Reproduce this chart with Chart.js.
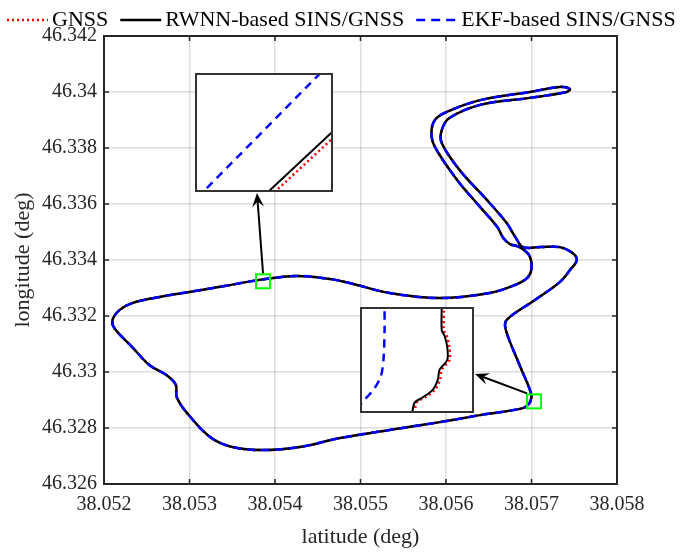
<!DOCTYPE html>
<html>
<head>
<meta charset="utf-8">
<script src="https://cdn.jsdelivr.net/npm/chart.js@4.4.1/dist/chart.umd.min.js"></script>
<style>
  html, body { margin: 0; padding: 0; background: #fff; }
  #wrap { position: relative; width: 680px; height: 552px; }
  #main { position: absolute; left: 0; top: 0; }
  .inset { position: absolute; box-sizing: border-box; border: 2px solid #333; background: #fff; }
  .inset canvas { display: block; }
</style>
</head>
<body>
<div id="wrap">
  <canvas id="main" width="680" height="552"></canvas>
  <div class="inset" style="left:195px;top:73px;width:138px;height:119px"><canvas id="inset1" width="134" height="115"></canvas></div>
  <div class="inset" style="left:360px;top:307px;width:114px;height:106px"><canvas id="inset2" width="110" height="102"></canvas></div>
</div>
<script>
// series names + styles (legend order)
const seriesNames = ['GNSS', 'RWNN-based SINS/GNSS', 'EKF-based SINS/GNSS'];
const seriesColors = ['#ff0000', '#000000', '#0000ff'];
const seriesDash = [[2, 3], [], [8, 6]];
const seriesWidth = [2.5, 2.5, 2.5];

// axis ticks
const latTicks = [38.052, 38.053, 38.054, 38.055, 38.056, 38.057, 38.058];
const lonTicks = [46.326, 46.328, 46.33, 46.332, 46.334, 46.336, 46.338, 46.34, 46.342];

// trajectory (all three solutions overlap at this scale)
const trackLat = [
  38.05698, 38.05690, 38.05640, 38.05593, 38.05534, 38.05476, 38.05429, 38.05386, 38.05350, 38.05324,
  38.05297, 38.05285, 38.05284, 38.05273, 38.05253, 38.05233, 38.05212, 38.05210, 38.05218, 38.05233,
  38.05265, 38.05300, 38.05341, 38.05382, 38.05425, 38.05464, 38.05487, 38.05534, 38.05593, 38.05651,
  38.05681, 38.05695, 38.05700, 38.05697, 38.05686, 38.05675, 38.05667, 38.05660, 38.05640, 38.05613,
  38.05587, 38.05583, 38.05587, 38.05601, 38.05640, 38.05698, 38.05733, 38.05745, 38.05741, 38.05698,
  38.05640, 38.05604, 38.05595, 38.05595, 38.05616, 38.05648, 38.05671, 38.05681, 38.05690, 38.05710,
  38.05733, 38.05748, 38.05753, 38.05745, 38.05733, 38.05704, 38.05671, 38.05670, 38.05686, 38.05700,
  38.05698
];
const trackLon = [
  46.32889, 46.32871, 46.32846, 46.32821, 46.32793, 46.32764, 46.32732, 46.32721, 46.32732, 46.32768,
  46.32854, 46.32911, 46.32954, 46.32989, 46.33025, 46.33089, 46.33157, 46.33186, 46.33221, 46.33246,
  46.33268, 46.33286, 46.33307, 46.33329, 46.33343, 46.33332, 46.33318, 46.33282, 46.33264, 46.33282,
  46.33311, 46.33336, 46.33371, 46.33418, 46.33446, 46.33457, 46.33479, 46.33518, 46.33589, 46.33686,
  46.33804, 46.33854, 46.33900, 46.33929, 46.33971, 46.34000, 46.34018, 46.34011, 46.34000, 46.33979,
  46.33954, 46.33907, 46.33864, 46.33818, 46.33721, 46.33614, 46.33532, 46.33482, 46.33446, 46.33446,
  46.33446, 46.33425, 46.33400, 46.33364, 46.33321, 46.33257, 46.33186, 46.33150, 46.33025, 46.32918,
  46.32889
];

// zoom boxes on the main plot (centre, lat/lon)
const spotLat = [38.05386, 38.05703];
const spotLon = [46.33324, 46.32895];

// inset 1 (upper-left) view and curves
const inset1Lat = [38.05385, 38.05387];
const inset1Lon = [46.33332, 46.33334];
const in1BlueLat = [38.05385, 38.05387];
const in1BlueLon = [46.3333186, 46.3333422];
const in1BlackLat = [38.05386, 38.053871];
const in1BlackLon = [46.333319, 46.333331];
const in1RedLat = [38.053861, 38.053871];
const in1RedLon = [46.333319, 46.3333298];

// inset 2 (lower-right) view and curves
const inset2Lat = [38.05702, 38.05704];
const inset2Lon = [46.32894, 46.32896];
const in2BlueLat = [38.057019, 38.0570202, 38.0570221, 38.0570234, 38.0570239, 38.0570241, 38.0570241];
const in2BlueLon = [46.3289404, 46.3289419, 46.3289442, 46.3289467, 46.32895, 46.3289558, 46.3289606];
const in2BlackLat = [38.0570345, 38.0570345, 38.057035, 38.0570355, 38.0570355, 38.0570341, 38.0570338, 38.0570329, 38.0570311, 38.0570296, 38.0570291];
const in2BlackLon = [46.3289606, 46.3289558, 46.3289548, 46.3289525, 46.32895, 46.3289481, 46.3289462, 46.3289442, 46.3289427, 46.3289417, 46.3289396];
const in2RedLat = [38.0570349, 38.0570349, 38.0570354, 38.0570359, 38.0570359, 38.0570345, 38.0570342, 38.0570333, 38.0570315, 38.05703, 38.0570295];
const in2RedLon = in2BlackLon;

const fontFam = '"Liberation Serif", "Times New Roman", serif';
const axisColor = '#262626';

function pts(xs, ys) {
  return xs.map((x, i) => ({ x: x, y: ys[i] }));
}
function fmt(v) {
  return String(parseFloat(Number(v).toFixed(3)));
}
function mkSet(i, data, tension) {
  return {
    label: seriesNames[i],
    data: data,
    showLine: true,
    borderColor: seriesColors[i],
    borderWidth: seriesWidth[i],
    borderDash: seriesDash[i],
    pointRadius: 0,
    tension: tension,
    order: 3 - i,
    clip: 0
  };
}

function arrow(ctx, x0, y0, x1, y1) {
  const a = Math.atan2(y1 - y0, x1 - x0);
  const len = 14, half = 6;
  ctx.beginPath();
  ctx.moveTo(x0, y0);
  ctx.lineTo(x1 - Math.cos(a) * 8, y1 - Math.sin(a) * 8);
  ctx.stroke();
  const bx = x1 - Math.cos(a) * len, by = y1 - Math.sin(a) * len;
  const nx = x1 - Math.cos(a) * len * 0.6, ny = y1 - Math.sin(a) * len * 0.6;
  ctx.beginPath();
  ctx.moveTo(x1, y1);
  ctx.lineTo(bx - Math.sin(a) * half, by + Math.cos(a) * half);
  ctx.lineTo(nx, ny);
  ctx.lineTo(bx + Math.sin(a) * half, by - Math.cos(a) * half);
  ctx.closePath();
  ctx.fill();
}

const framePlugin = {
  id: 'frame',
  afterDatasetsDraw(chart) {
    const ctx = chart.ctx;
    const xs = chart.scales.x, ys = chart.scales.y;
    const a = chart.chartArea;
    ctx.save();
    // zoom boxes
    ctx.strokeStyle = '#00ff00';
    ctx.lineWidth = 2;
    const c = [];
    spotLat.forEach((lat, i) => {
      const px = xs.getPixelForValue(lat), py = ys.getPixelForValue(spotLon[i]);
      c.push([px, py]);
      ctx.strokeRect(px - 7, py - 7, 14, 14);
    });
    // arrows to insets
    ctx.strokeStyle = '#000';
    ctx.fillStyle = '#000';
    ctx.lineWidth = 2;
    arrow(ctx, c[0][0], c[0][1] - 8, 257, 193);
    arrow(ctx, c[1][0] - 7, c[1][1] - 8, 475, 374);
    // axes box + inward ticks
    ctx.strokeStyle = axisColor;
    ctx.lineWidth = 2;
    ctx.strokeRect(a.left, a.top, a.right - a.left, a.bottom - a.top);
    ctx.lineWidth = 1.5;
    ctx.beginPath();
    latTicks.forEach(v => {
      const p = xs.getPixelForValue(v);
      ctx.moveTo(p, a.bottom); ctx.lineTo(p, a.bottom - 5);
      ctx.moveTo(p, a.top); ctx.lineTo(p, a.top + 5);
    });
    lonTicks.forEach(v => {
      const p = ys.getPixelForValue(v);
      ctx.moveTo(a.left, p); ctx.lineTo(a.left + 5, p);
      ctx.moveTo(a.right, p); ctx.lineTo(a.right - 5, p);
    });
    ctx.stroke();
    ctx.restore();
  },
  afterDraw(chart) {
    // legend line across the top
    const ctx = chart.ctx;
    ctx.save();
    ctx.font = '22px ' + fontFam;
    ctx.textBaseline = 'middle';
    let x = 7;
    const y = 20;
    seriesNames.forEach((name, i) => {
      ctx.strokeStyle = seriesColors[i];
      ctx.lineWidth = 2.5;
      ctx.setLineDash(i === 2 ? [9, 6] : seriesDash[i]);
      ctx.beginPath();
      ctx.moveTo(x, y);
      ctx.lineTo(x + 41, y);
      ctx.stroke();
      ctx.setLineDash([]);
      ctx.fillStyle = '#000';
      ctx.fillText(name, x + 45, y);
      x += 45 + ctx.measureText(name).width + 12;
    });
    ctx.restore();
  }
};

const track = pts(trackLat, trackLon);

new Chart(document.getElementById('main'), {
  type: 'scatter',
  data: {
    datasets: [mkSet(0, track, 0.35), mkSet(1, track, 0.35), mkSet(2, track, 0.35)]
  },
  options: {
    responsive: false,
    animation: false,
    layout: { padding: { left: 0, right: 63, top: 36, bottom: 0 } },
    plugins: { legend: { display: false }, tooltip: { enabled: false } },
    scales: {
      x: {
        type: 'linear',
        min: latTicks[0],
        max: latTicks[latTicks.length - 1],
        afterBuildTicks: s => { s.ticks = latTicks.map(v => ({ value: v })); },
        afterFit: s => { s.height = 68; },
        grid: { color: 'rgba(0,0,0,0.13)', lineWidth: 1.5, drawTicks: false },
        border: { display: false },
        ticks: { padding: 9, color: axisColor, font: { family: fontFam, size: 20 }, callback: fmt, maxRotation: 0, autoSkip: false },
        title: { display: true, text: 'latitude (deg)', color: axisColor, font: { family: fontFam, size: 22 }, padding: { top: 0, bottom: 2 } }
      },
      y: {
        type: 'linear',
        min: lonTicks[0],
        max: lonTicks[lonTicks.length - 1],
        afterBuildTicks: s => { s.ticks = lonTicks.map(v => ({ value: v })); },
        afterFit: s => { s.width = 104; },
        grid: { color: 'rgba(0,0,0,0.13)', lineWidth: 1.5, drawTicks: false },
        border: { display: false },
        ticks: { padding: 7, color: axisColor, font: { family: fontFam, size: 20 }, callback: fmt, autoSkip: false },
        title: { display: true, text: 'longitude (deg)', color: axisColor, font: { family: fontFam, size: 22 }, padding: { top: 10, bottom: 0 } }
      }
    }
  },
  plugins: [framePlugin]
});

function insetChart(id, latRange, lonRange, sets) {
  new Chart(document.getElementById(id), {
    type: 'scatter',
    data: { datasets: sets },
    options: {
      responsive: false,
      animation: false,
      layout: { padding: 0 },
      plugins: { legend: { display: false }, tooltip: { enabled: false } },
      scales: {
        x: { type: 'linear', display: false, min: latRange[0], max: latRange[1] },
        y: { type: 'linear', display: false, min: lonRange[0], max: lonRange[1] }
      }
    }
  });
}

insetChart('inset1', inset1Lat, inset1Lon, [
  mkSet(0, pts(in1RedLat, in1RedLon), 0),
  Object.assign(mkSet(1, pts(in1BlackLat, in1BlackLon), 0), { borderWidth: 2 }),
  mkSet(2, pts(in1BlueLat, in1BlueLon), 0)
]);
insetChart('inset2', inset2Lat, inset2Lon, [
  mkSet(0, pts(in2RedLat, in2RedLon), 0.3),
  Object.assign(mkSet(1, pts(in2BlackLat, in2BlackLon), 0.3), { borderWidth: 2 }),
  mkSet(2, pts(in2BlueLat, in2BlueLon), 0.3)
]);
</script>
</body>
</html>
